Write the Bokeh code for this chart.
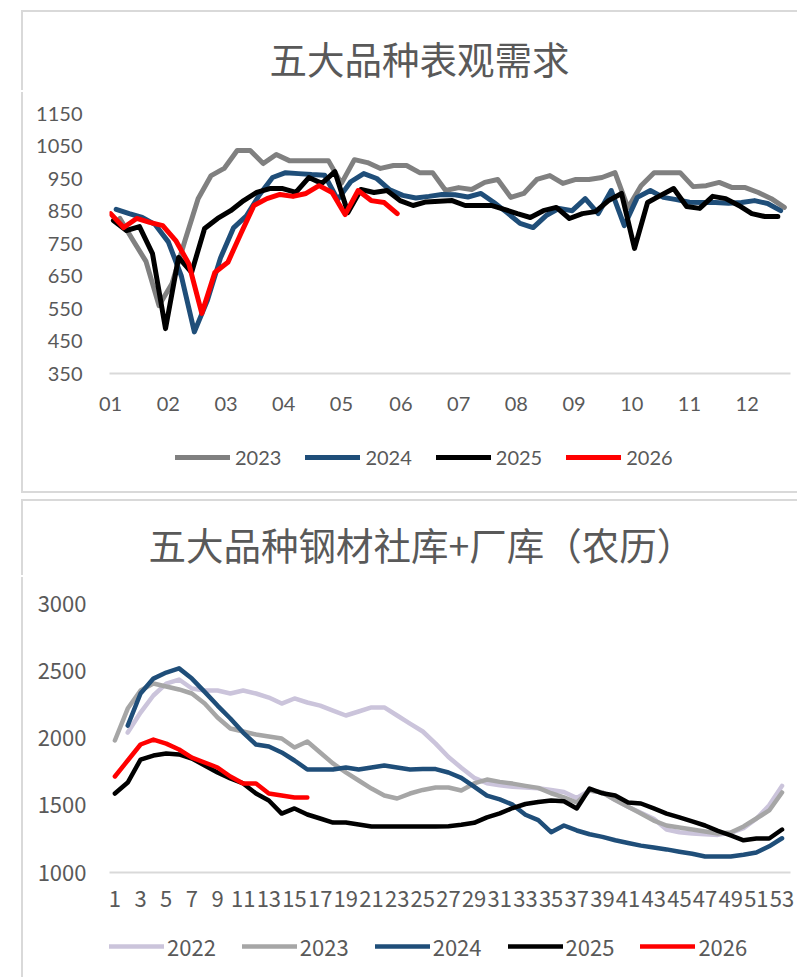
from bokeh.plotting import figure
from bokeh.models import Range1d, FixedTicker, Legend, LegendItem, Label
from bokeh.layouts import column
from bokeh.embed import file_html
from bokeh.resources import INLINE

# ---------------- Chart 1: 五大品种表观需求 (weekly) ----------------
title_1 = "五大品种表观需求"
month_labels = ["01", "02", "03", "04", "05", "06", "07", "08", "09", "10", "11", "12"]
demand_years = ["2023", "2024", "2025", "2026"]
demand_2023 = [827, 760, 695, 559, 627, 760, 888, 959, 981, 1036, 1036, 996, 1024, 1005, 1005, 1005,
               1005, 935, 1008, 999, 981, 990, 990, 968, 968, 913, 922, 916, 938, 947, 892, 904,
               947, 959, 935, 947, 947, 953, 968, 860, 928, 968, 968, 968, 925, 928, 938, 922,
               922, 907, 888, 861]
demand_2024 = [855, 842, 830, 808, 755, 650, 478, 575, 705, 798, 835, 900, 953, 968, 965, 962,
               960, 885, 940, 965, 950, 915, 898, 890, 895, 901, 900, 893, 904, 876, 845, 812,
               799, 836, 858, 851, 888, 842, 913, 805, 892, 913, 892, 885, 877, 876, 876, 874,
               876, 882, 873, 851]
demand_2025 = [821, 790, 802, 719, 488, 707, 661, 796, 827, 851, 882, 907, 919, 919, 907, 953,
               935, 971, 845, 916, 907, 913, 882, 867, 878, 880, 882, 867, 867, 867, 855, 842,
               830, 851, 861, 827, 842, 848, 882, 904, 735, 876, 898, 919, 864, 858, 895, 888,
               867, 842, 833, 833]
demand_2026 = [842, 799, 827, 815, 805, 759, 688, 535, 661, 692, 781, 867, 888, 901, 895, 904,
               928, 907, 839, 913, 882, 876, 842]
# day of the year of each year's first weekly observation
demand_first_day = [5, 3, 1.5, 0]
demand_ticks_y = [350, 450, 550, 650, 750, 850, 950, 1050, 1150]

# ---------------- Chart 2: 五大品种钢材社库+厂库（农历） ----------------
title_2 = "五大品种钢材社库+厂库（农历）"
stock_years = ["2022", "2023", "2024", "2025", "2026"]
stock_first_week = [2, 1, 2, 1, 1]
stock_2022 = [2042, 2191, 2318, 2407, 2437, 2370, 2355, 2355, 2333, 2355, 2333, 2303, 2258, 2296,
              2266, 2243, 2206, 2169, 2199, 2229, 2229, 2169, 2109, 2050, 1960, 1860, 1780, 1705,
              1665, 1650, 1638, 1633, 1628, 1615, 1600, 1555, 1611, 1596, 1540, 1490, 1445, 1400,
              1320, 1300, 1290, 1285, 1280, 1295, 1330, 1400, 1500, 1645]
stock_2023 = [1983, 2221, 2355, 2407, 2385, 2363, 2333, 2258, 2154, 2072, 2050, 2028, 2013, 1998,
              1931, 1975, 1894, 1812, 1745, 1685, 1625, 1573, 1551, 1588, 1615, 1633, 1633, 1611,
              1663, 1692, 1675, 1662, 1645, 1630, 1590, 1560, 1521, 1611, 1596, 1540, 1490, 1440,
              1387, 1350, 1335, 1320, 1305, 1290, 1298, 1343, 1402, 1462, 1596]
stock_2024 = [2094, 2333, 2444, 2489, 2520, 2444, 2345, 2243, 2147, 2042, 1953, 1938, 1894, 1834,
              1767, 1767, 1767, 1782, 1767, 1782, 1797, 1782, 1767, 1770, 1770, 1745, 1705, 1640,
              1573, 1545, 1505, 1430, 1390, 1300, 1350, 1313, 1285, 1265, 1240, 1220, 1200, 1186,
              1172, 1155, 1140, 1119, 1119, 1119, 1132, 1149, 1195, 1255]
stock_2025 = [1588, 1670, 1841, 1871, 1886, 1879, 1849, 1797, 1745, 1700, 1663, 1588, 1536, 1439,
              1477, 1432, 1402, 1372, 1372, 1357, 1343, 1343, 1343, 1343, 1343, 1343, 1345, 1355,
              1370, 1410, 1440, 1480, 1510, 1525, 1536, 1530, 1477, 1625, 1590, 1573, 1521, 1514,
              1477, 1439, 1410, 1380, 1350, 1310, 1276, 1240, 1253, 1253, 1320]
stock_2026 = [1715, 1834, 1953, 1990, 1960, 1916, 1856, 1819, 1782, 1715, 1663, 1663, 1588, 1573,
              1558, 1558]
stock_week_ticks = list(range(1, 54, 2))
stock_ticks_y = [1000, 1500, 2000, 2500, 3000]

TEXT = "#595959"
AXIS = "#D9D9D9"
BORDER = "2px solid #D9D9D9"
W = 776
MBL, MBR = 86, 9


def strip_figure(height):
    q = figure(width=W, height=height, output_backend="svg", toolbar_location=None,
               x_axis_location=None, y_axis_location=None, x_range=Range1d(0, 1), y_range=Range1d(0, 1),
               min_border_left=MBL, min_border_right=MBR, min_border_top=0, min_border_bottom=0)
    q.outline_line_color = None
    q.grid.visible = False
    q.background_fill_color = "white"
    q.border_fill_color = "white"
    return q


def title_figure(height, text, x, y):
    q = strip_figure(height)
    q.add_layout(Label(x=x, y=y, x_units="screen", y_units="screen", text=text,
                       text_font="Noto Sans CJK SC", text_font_size="37.5px", text_color=TEXT,
                       text_align="left", text_baseline="middle"))
    return q


def chart_figure(height, xr, yr, mbt, mbb):
    p = figure(width=W, height=height, x_range=xr, y_range=yr,
               output_backend="svg", toolbar_location=None,
               min_border_left=MBL, min_border_right=MBR, min_border_top=mbt, min_border_bottom=mbb)
    p.outline_line_color = None
    p.grid.visible = False
    p.background_fill_color = "white"
    p.border_fill_color = "white"
    p.yaxis.axis_line_color = None
    p.yaxis.major_tick_line_color = None
    p.yaxis.minor_tick_line_color = None
    p.xaxis.axis_line_color = AXIS
    p.xaxis.axis_line_width = 2
    p.xaxis.major_tick_line_color = None
    p.xaxis.minor_tick_line_color = None
    for ax in (p.xaxis, p.yaxis):
        ax.major_label_text_color = TEXT
    return p


def legend_figure(height, years, xs_list, ys_list, colors, lw, font, size, spacing, standoff, loc):
    # legend strip: the series are drawn again but lie outside its (0,1) ranges, so only
    # the legend keys show
    q = strip_figure(height)
    items = []
    for yr, xs, ys, c in zip(years, xs_list, ys_list, colors):
        r = q.line(xs, ys, line_color=c, line_width=lw, line_cap="round")
        items.append(LegendItem(label=yr, renderers=[r]))
    leg = Legend(items=items, orientation="horizontal", location=loc, padding=0, margin=0,
                 spacing=spacing, label_standoff=standoff, glyph_width=55, glyph_height=20,
                 border_line_color=None, background_fill_alpha=0,
                 label_text_font=font, label_text_font_size=size, label_text_color=TEXT)
    q.add_layout(leg)
    return q


# ---------- chart 1 ----------
t1 = title_figure(80, title_1, 160, 35)
t1.margin = (10, 0, 0, 21)
t1.styles = {"border-left": BORDER, "border-top": BORDER}

p1 = chart_figure(336, Range1d(-0.6, 365.3), Range1d(350, 1190), 8, 55)
month_ticks = [round(31.1 * i) for i in range(len(month_labels))]
p1.xaxis.ticker = FixedTicker(ticks=month_ticks)
p1.xaxis.major_label_overrides = {t: l for t, l in zip(month_ticks, month_labels)}
p1.yaxis.ticker = FixedTicker(ticks=demand_ticks_y)
for ax in (p1.xaxis, p1.yaxis):
    ax.major_label_text_font = "Lato"
    ax.major_label_text_font_size = "20px"
p1.xaxis.major_label_standoff = 17
p1.yaxis.major_label_standoff = 21

demand_series = [demand_2023, demand_2024, demand_2025, demand_2026]
demand_colors = ["#808080", "#1F4E79", "#000000", "#FF0000"]
demand_xs = []
for vals, d0, c in zip(demand_series, demand_first_day, demand_colors):
    xs = [d0 + 7 * i for i in range(len(vals))]
    demand_xs.append(xs)
    p1.line(xs, vals, line_color=c, line_width=5, line_join="round", line_cap="round")
p1.margin = (2, 0, 0, 21)
p1.styles = {"border-left": BORDER}

l1 = legend_figure(65, demand_years, demand_xs, demand_series, demand_colors, 5,
                   "Lato", "20px", 24, 5, (66, 24))
l1.margin = (0, 0, 0, 21)
l1.styles = {"border-left": BORDER, "border-bottom": BORDER}

# ---------- chart 2 ----------
t2 = title_figure(76, title_2, 39, 34)
t2.margin = (6, 0, 0, 21)
t2.styles = {"border-left": BORDER, "border-top": BORDER}

p2 = chart_figure(345, Range1d(0.58, 53.66), Range1d(1000, 3100), 13, 50)
p2.xaxis.ticker = FixedTicker(ticks=stock_week_ticks)
p2.yaxis.ticker = FixedTicker(ticks=stock_ticks_y)
for ax in (p2.xaxis, p2.yaxis):
    ax.major_label_text_font = "Noto Sans CJK SC"
    ax.major_label_text_font_size = "22px"
p2.xaxis.major_label_standoff = 12
p2.yaxis.major_label_standoff = 17

stock_series = [stock_2022, stock_2023, stock_2024, stock_2025, stock_2026]
stock_colors = ["#CBC4DB", "#A6A6A6", "#1F4E79", "#000000", "#FF0000"]
stock_xs = []
for vals, w0, c in zip(stock_series, stock_first_week, stock_colors):
    xs = [w0 + i for i in range(len(vals))]
    stock_xs.append(xs)
    p2.line(xs, vals, line_color=c, line_width=4.5, line_join="round", line_cap="round")
p2.margin = (2, 0, 0, 21)
p2.styles = {"border-left": BORDER}

l2 = legend_figure(55, stock_years, stock_xs, stock_series, stock_colors, 4.5,
                   "Noto Sans CJK SC", "22px", 26, 3, (0, 15))
l2.margin = (0, 0, 0, 21)
l2.styles = {"border-left": BORDER}

layout = column(t1, p1, l1, t2, p2, l2, spacing=0)
open("out.html", "w").write(file_html(layout, INLINE))
